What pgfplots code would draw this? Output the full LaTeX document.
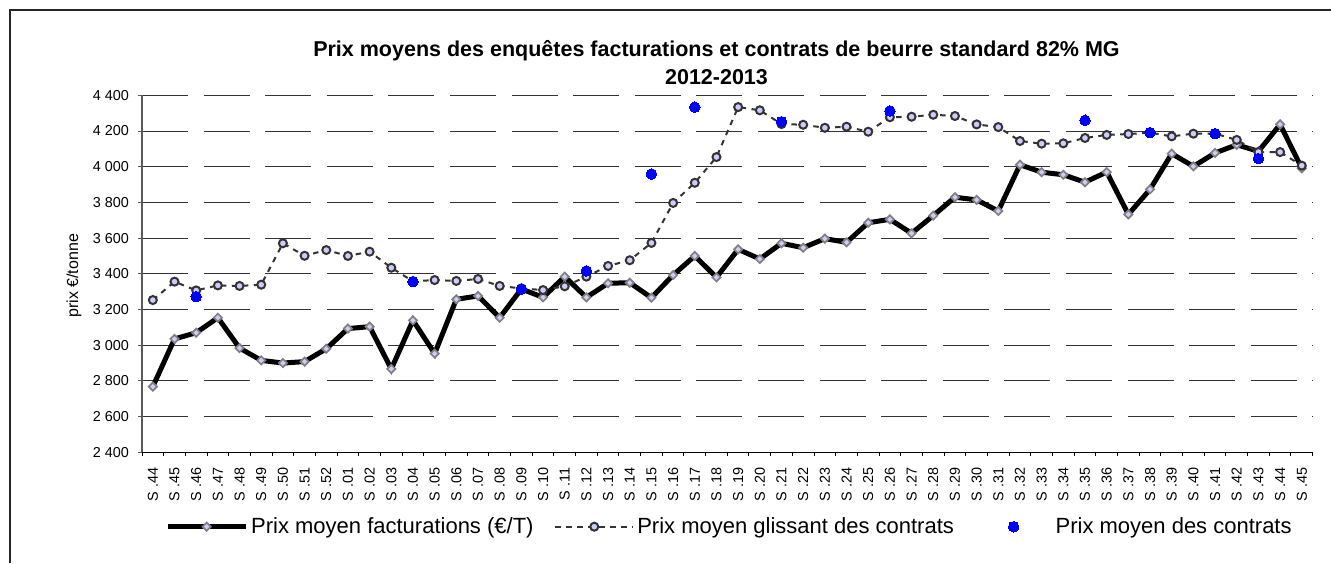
\documentclass[border=0pt]{standalone}
\usepackage{fontspec}
\setmainfont{Liberation Sans}
\usepackage{pgfplots}
\pgfplotsset{compat=1.18}
\definecolor{lav}{RGB}{204,204,255}
\definecolor{mgray}{RGB}{128,128,128}
\definecolor{dgray}{RGB}{51,51,51}
\definecolor{cblue}{RGB}{0,0,255}
\pgfplotsset{widelegend/.style={legend image code/.code={\path[draw=none,fill=none] (0pt,0pt) -- (78pt,0pt);\draw[mark repeat=2,mark phase=2,##1] plot coordinates {(0pt,0pt) (39pt,0pt) (78pt,0pt)};}}}

\pgfplotstableread{
i fact gliss
0 2768 3253
1 3035 3356
2 3070 3307
3 3154 3335
4 2984 3332
5 2915 3339
6 2900 3571
7 2908 3501
8 2980 3533
9 3093 3500
10 3104 3524
11 2867 3434
12 3139 3358
13 2953 3365
14 3257 3360
15 3276 3371
16 3154 3332
17 3315 3318
18 3268 3309
19 3384 3330
20 3268 3384
21 3347 3444
22 3350 3476
23 3266 3573
24 3393 3797
25 3500 3910
26 3380 4054
27 3537 4334
28 3483 4316
29 3571 4239
30 3546 4235
31 3597 4218
32 3576 4224
33 3686 4196
34 3705 4277
35 3627 4280
36 3726 4291
37 3829 4284
38 3814 4237
39 3752 4222
40 4011 4144
41 3969 4129
42 3955 4131
43 3913 4161
44 3970 4178
45 3733 4183
46 3873 4190
47 4073 4170
48 4002 4185
49 4077 4185
50 4123 4150
51 4086 4082
52 4237 4082
53 3991 4006
}\maindata

\pgfplotstableread{
i contr
2 3272
12 3356
17 3315
20 3416
23 3959
25 4334
29 4252
34 4312
43 4260
46 4191
49 4185
51 4045
}\contrdata

\begin{document}
\begin{tikzpicture}[x=1pt,y=1pt]
\draw[line width=1.6pt, black!85] (10,0) -- (10,553) -- (1331,553);
\begin{axis}[
  at={(142pt,110.7pt)}, anchor=south west,
  scale only axis, width=1170.7pt, height=357pt,
  xmin=-0.5, xmax=53.5, ymin=2400, ymax=4400,
  clip=false,
  axis x line*=bottom, axis y line*=left,
  x axis line style={black, line width=1pt, -},
  y axis line style={black!65, line width=1.2pt, -},
  tick align=outside,
  xtick={0,...,53},
  xticklabels={S .44,S .45,S .46,S .47,S .48,S .49,S .50,S .51,S .52,S .01,S .02,S .03,S .04,S .05,S .06,S .07,S .08,S .09,S .10,S .11,S .12,S .13,S .14,S .15,S .16,S .17,S .18,S .19,S .20,S .21,S .22,S .23,S .24,S .25,S .26,S .27,S .28,S .29,S .30,S .31,S .32,S .33,S .34,S .35,S .36,S .37,S .38,S .39,S .40,S .41,S .42,S .43,S .44,S .45},
  major x tick style={draw=none},
  minor xtick={-0.5,0.5,...,53.5},
  minor x tick style={black, line width=1pt},
  minor tick length=4pt,
  major tick length=4pt,
  ytick={2400,2600,...,4400},
  yticklabels={2 400,2 600,2 800,3 000,3 200,3 400,3 600,3 800,4 000,4 200,4 400},
  major y tick style={black!65, line width=1pt},
  ymajorgrids=true,
  major grid style={black!80, line width=1pt, dash pattern=on 46pt off 15.6pt},
  xticklabel style={rotate=90, anchor=east, inner sep=0pt, font=\fontsize{14.4}{17}\selectfont},
  yticklabel style={anchor=east, inner sep=0pt, font=\fontsize{14.4}{17}\selectfont},
  xticklabel shift=11pt,
  yticklabel shift=9pt,
  legend columns=3,
  legend style={at={(0.0196,-0.2084)}, anchor=west, draw=none, fill=none,
    inner sep=0pt, font=\fontsize{22}{26}\selectfont,
    nodes={inner sep=3pt},
    /tikz/every even column/.append style={column sep=17.7pt}},
  legend cell align=left,
  widelegend,
]
\addplot[black, line width=5pt, mark=square*, mark size=2.9pt,
  mark options={rotate=45, fill=lav, draw=mgray, line width=1.7pt, solid}]
  table[x=i, y=fact] {\maindata};
\addlegendentry{Prix moyen facturations (€/T)}
\addplot[dgray, line width=2pt, dash pattern=on 5.5pt off 5.5pt, mark=*, mark size=4pt,
  mark options={fill=lav, draw=dgray, line width=2pt, solid}]
  table[x=i, y=gliss] {\maindata};
\addlegendentry{Prix moyen glissant des contrats}
\addplot[only marks, mark=*, mark size=5.3pt, mark options={fill=cblue, draw=cblue, line width=0pt}, widelegend]
  table[x=i, y=contr] {\contrdata};
\addlegendentry{Prix moyen des contrats}
\end{axis}
\node[anchor=base, font=\bfseries\fontsize{21.5}{25}\selectfont] at (716.5,506.3) {Prix moyens des enquêtes facturations et contrats de beurre standard 82\% MG};
\node[anchor=base, font=\bfseries\fontsize{21.5}{25}\selectfont] at (716.5,478) {2012-2013};
\node[rotate=90, font=\fontsize{16}{19}\selectfont] at (74,287.2) {prix €/tonne};
\pgfresetboundingbox
\path[use as bounding box] (0,0) rectangle (1331,563);
\end{tikzpicture}
\end{document}
